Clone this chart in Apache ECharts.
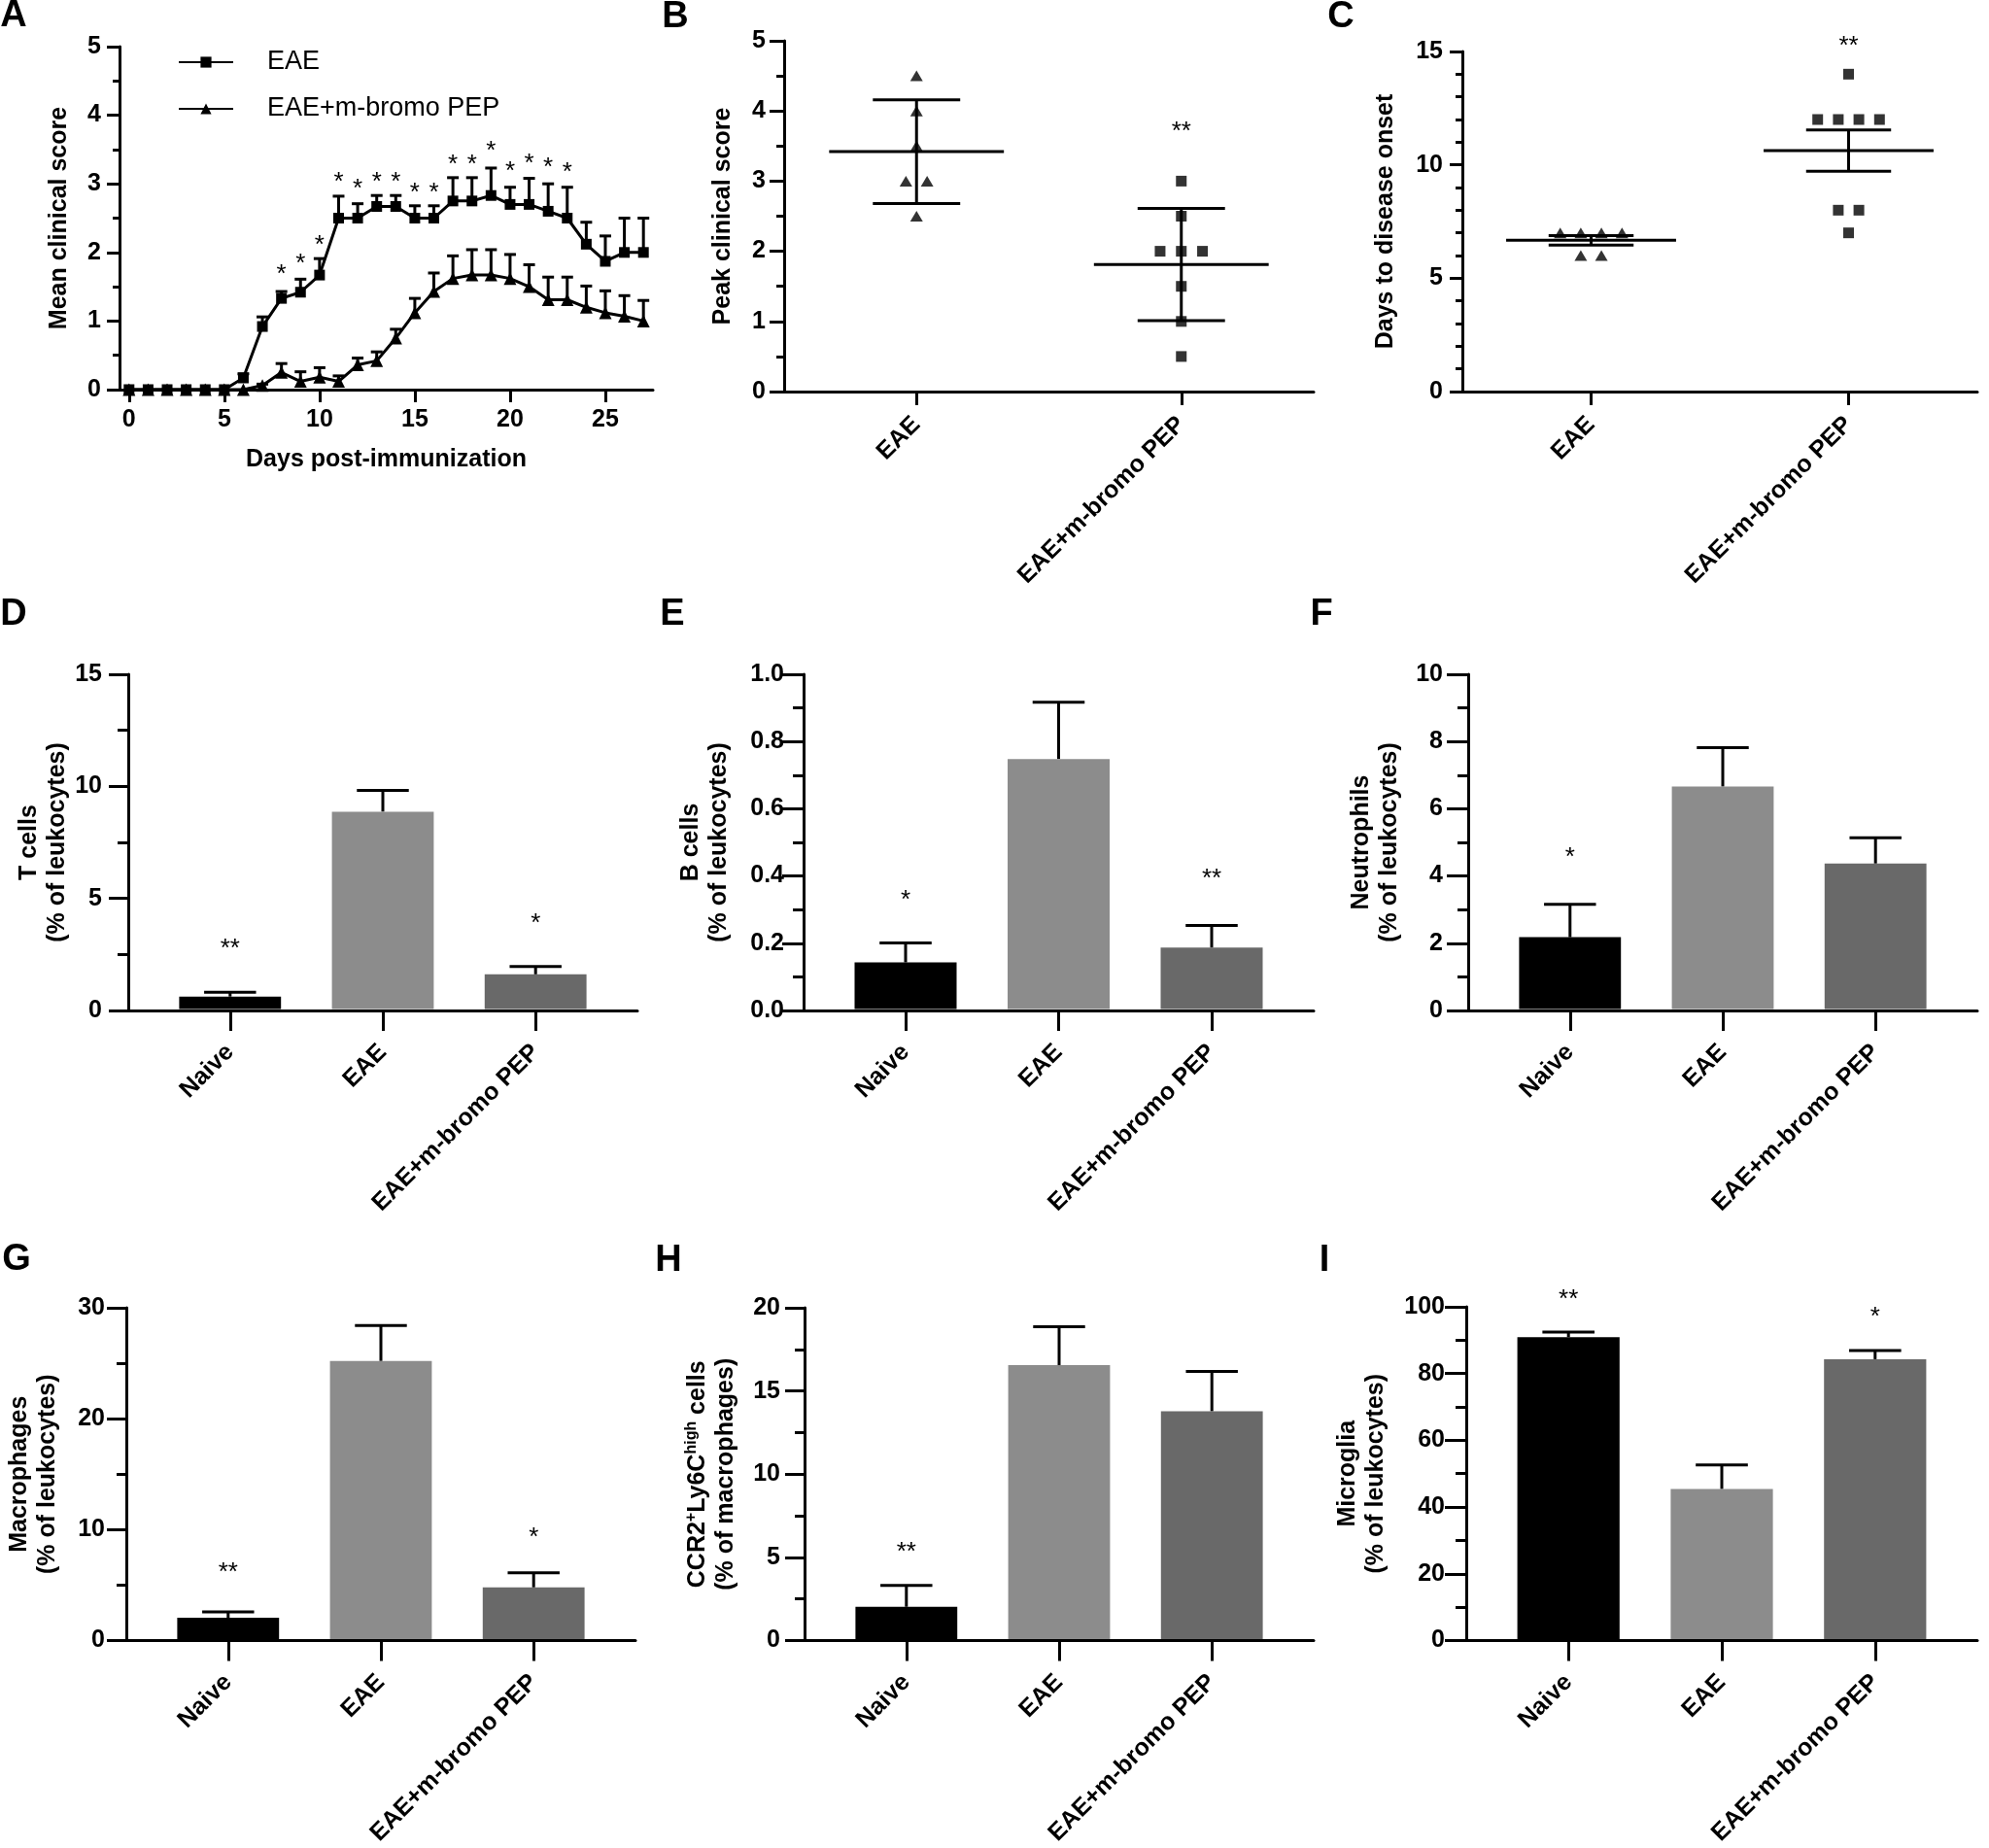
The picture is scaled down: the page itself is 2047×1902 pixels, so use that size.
<!DOCTYPE html>
<html><head><meta charset="utf-8">
<script src="https://cdn.jsdelivr.net/npm/echarts@6/dist/echarts.min.js"></script>
<style>html,body{margin:0;padding:0;background:#fff}#c{width:2047px;height:1902px}</style>
</head><body><div id="c"></div>
<script>
// ---------------- DATA ----------------
// Panel A: mean clinical score over time
const daysA = [0,1,2,3,4,5,6,7,8,9,10,11,12,13,14,15,16,17,18,19,20,21,22,23,24,25,26,27];
const eaeMeanA = [0,0,0,0,0,0,0.17,0.92,1.33,1.42,1.67,2.5,2.5,2.67,2.67,2.5,2.5,2.75,2.75,2.83,2.7,2.7,2.6,2.5,2.12,1.87,2.0,2.0];
const eaeErrA  = [0,0,0,0,0,0,0.06,0.14,0.10,0.19,0.24,0.32,0.21,0.16,0.16,0.18,0.18,0.34,0.34,0.40,0.25,0.38,0.40,0.45,0.32,0.37,0.50,0.50];
const pepMeanA = [0,0,0,0,0,0,0,0.06,0.25,0.12,0.18,0.12,0.36,0.42,0.75,1.12,1.43,1.62,1.67,1.67,1.62,1.5,1.31,1.31,1.2,1.12,1.07,1.0];
const pepErrA  = [0,0,0,0,0,0,0,0.02,0.13,0.14,0.14,0.08,0.10,0.13,0.13,0.21,0.27,0.33,0.37,0.37,0.35,0.32,0.33,0.33,0.31,0.32,0.30,0.30];
const starDaysA = [8,9,10,11,12,13,14,15,16,17,18,19,20,21,22,23];
const starValA  = [1.76,1.92,2.18,3.10,3.00,3.11,3.10,2.95,2.95,3.36,3.36,3.56,3.26,3.38,3.31,3.25];
const xTicksA = [0,5,10,15,20,25];
const seriesNamesA = ['EAE','EAE+m-bromo PEP'];

// Panels B, C: individual animals
const groupsBC = ['EAE','EAE+m-bromo PEP'];
const peakEAE = [4.5,4.0,3.5,3.0,3.0,2.5];
const peakPEP = [3.0,2.5,2.0,2.0,2.0,1.5,1.0,0.5];
const peakMean = [3.42,1.81];
const peakSD   = [0.74,0.80];
const peakStars = ['','**'];
const peakStarVal = [null,3.78];

const onsetEAE = [7,7,7,7,6,6];
const onsetPEP = [14,12,12,12,12,8,8,7];
const onsetMean = [6.67,10.63];
const onsetSEM  = [0.21,0.91];
const onsetStars = ['','**'];
const onsetStarVal = [null,15.5];

// Panels D-I: bar charts
const groups3 = ['Naive','EAE','EAE+m-bromo PEP'];
const tMean = [0.62,8.87,1.61],   tErr = [0.19,0.95,0.35],  tStars = ['**','','*'], tStarVal = [3.0,null,4.12];
const bMean = [0.143,0.748,0.187], bErr = [0.058,0.169,0.066], bStars = ['*','','**'], bStarVal = [0.343,null,0.409];
const nMean = [2.18,6.66,4.37],   nErr = [0.98,1.16,0.77],  nStars = ['*','',''], nStarVal = [4.72,null,null];
const mMean = [2.06,25.2,4.79],   mErr = [0.52,3.2,1.32],   mStars = ['**','','*'], mStarVal = [6.6,null,9.8];
const cMean = [2.03,16.55,13.78], cErr = [1.28,2.31,2.40],  cStars = ['**','',''], cStarVal = [5.63,null,null];
const gMean = [90.9,45.4,84.3],   gErr = [1.5,7.2,2.6],     gStars = ['**','','*'], gStarVal = [103.7,null,98.5];

// ---------------- STYLE ----------------
const FONT = 'Liberation Sans, Arial, sans-serif';
const BLACK = '#000';
const BAR_COLORS = ['#000000','#8c8c8c','#696969'];
const LW = 3;

const grids = [
  {left:123, top:48,  width:549, height:353}, // A
  {left:807, top:42,  width:545, height:361}, // B
  {left:1505,top:53,  width:530, height:350}, // C
  {left:132, top:694, width:524, height:346}, // D
  {left:827, top:694, width:525, height:346}, // E
  {left:1511,top:694, width:524, height:346}, // F
  {left:130, top:1346,width:524, height:346}, // G
  {left:828, top:1346,width:524, height:346}, // H
  {left:1509,top:1345,width:526, height:347}  // I
].map(g => Object.assign({containLabel:false}, g));

function yAx(g, max, interval, minorSplit, tl, ml, margin, name, gap, fmt, rich) {
  return {type:'value', gridIndex:g, min:0, max, interval,
    axisLine:{show:true, onZero:false, lineStyle:{color:BLACK,width:LW}},
    axisTick:{show:true, length:tl, lineStyle:{color:BLACK,width:LW}},
    minorTick:{show:true, splitNumber:minorSplit, length:ml, lineStyle:{color:BLACK,width:LW}},
    axisLabel:{margin, fontSize:25, fontWeight:'bold', color:BLACK, fontFamily:FONT, formatter: fmt},
    splitLine:{show:false}, minorSplitLine:{show:false},
    name, nameLocation:'middle', nameRotate:90, nameGap:gap,
    nameTextStyle:{fontSize:25, fontWeight:'bold', color:BLACK, fontFamily:FONT, lineHeight:29, rich}
  };
}
function xCat(g, min, max, vals, names, tl, margin) {
  return {type:'value', gridIndex:g, min, max,
    axisLine:{show:true, onZero:false, lineStyle:{color:BLACK,width:LW}},
    axisTick:{show:true, length:tl, customValues:vals, lineStyle:{color:BLACK,width:LW}},
    axisLabel:{show:true, customValues:vals, rotate:45, margin, fontSize:25, fontWeight:'bold', color:BLACK, fontFamily:FONT,
      formatter: v => { let k = 0, d = 1e9; vals.forEach((c,i)=>{ if (Math.abs(c-v)<d){d=Math.abs(c-v);k=i;} }); return names[k]; }},
    splitLine:{show:false}
  };
}

// error-bar renderer (upward only, with cap) for line panel
function errUp(capPx) {
  return (p, api) => {
    const x = api.value(0), y = api.value(1), e = api.value(2);
    if (!(e > 0)) return null;
    const a = api.coord([x, y]), b = api.coord([x, y + e]);
    return {type:'group', children:[
      {type:'line', shape:{x1:a[0],y1:a[1],x2:b[0],y2:b[1]}, style:{stroke:BLACK,lineWidth:LW}},
      {type:'line', shape:{x1:b[0]-capPx,y1:b[1],x2:b[0]+capPx,y2:b[1]}, style:{stroke:BLACK,lineWidth:LW}}
    ]};
  };
}
// bars with upper error bar
const BAR_HALF = 1/3, CAP_HALF = 0.17;
function barSeries(g, mean, err) {
  return {type:'custom', xAxisIndex:g, yAxisIndex:g, clip:false, z:3,
    data: mean.map((m,i)=>[i, m, err[i]]),
    renderItem:(p, api) => {
      const x = api.value(0), y = api.value(1), e = api.value(2);
      const tl = api.coord([x-BAR_HALF, y]), br = api.coord([x+BAR_HALF, 0]);
      const t = api.coord([x, y+e]), cl = api.coord([x-CAP_HALF, y+e]), cr = api.coord([x+CAP_HALF, y+e]);
      return {type:'group', children:[
        {type:'line', shape:{x1:t[0],y1:tl[1],x2:t[0],y2:t[1]}, style:{stroke:BLACK,lineWidth:LW}},
        {type:'line', shape:{x1:cl[0],y1:cl[1],x2:cr[0],y2:cr[1]}, style:{stroke:BLACK,lineWidth:LW}},
        {type:'rect', shape:{x:tl[0], y:tl[1], width:br[0]-tl[0], height:br[1]-tl[1]-1.5}, style:{fill:BAR_COLORS[p.dataIndex]}}
      ]};
    }};
}
// significance stars
function starSeries(g, xs, vals, texts) {
  const items = [], labels = [];
  xs.forEach((x,i)=>{ if (texts[i] && vals[i] != null) { items.push([x, vals[i]]); labels.push(texts[i]); } });
  return {type:'custom', xAxisIndex:g, yAxisIndex:g, clip:false, z:4, data:items,
    renderItem:(p, api) => {
      const c = api.coord([api.value(0), api.value(1)]);
      return {type:'text', x:c[0], y:c[1]+6, style:{text:labels[p.dataIndex], fill:BLACK, fontSize:26, fontFamily:FONT, align:'center', verticalAlign:'middle'}};
    }};
}
// mean +/- error lines for dot plots
function meanSeries(g, mean, err) {
  return {type:'custom', xAxisIndex:g, yAxisIndex:g, clip:false, z:3,
    data: mean.map((m,i)=>[i+0.5, m, err[i]]),
    renderItem:(p, api) => {
      const x = api.value(0), m = api.value(1), e = api.value(2);
      const L = (x1,y1,x2,y2) => { const a = api.coord([x1,y1]), b = api.coord([x2,y2]);
        return {type:'line', shape:{x1:a[0],y1:a[1],x2:b[0],y2:b[1]}, style:{stroke:BLACK,lineWidth:LW}}; };
      return {type:'group', children:[
        L(x-0.33,m,x+0.33,m), L(x,m-e,x,m+e), L(x-0.165,m+e,x+0.165,m+e), L(x-0.165,m-e,x+0.165,m-e)
      ]};
    }};
}
function jitter(vals, center, step) {
  const counts = {}, seen = {};
  vals.forEach(v => { counts[v] = (counts[v]||0) + 1; });
  return vals.map(v => { const k = seen[v] || 0; seen[v] = k + 1; return [center + (k - (counts[v]-1)/2)*step, v]; });
}

const fmt1 = v => v.toFixed(1);
const fmt0 = v => String(Math.round(v));
const xBar = g => xCat(g, -2/3, 8/3, [0,1,2], groups3, 21, 39);

const option = {
  animation:false,
  backgroundColor:'#fff',
  grid: grids,
  legend: {show:true, orient:'vertical', left:178, top:44, itemWidth:56, itemHeight:14, itemGap:18,
    selectedMode:false, data: seriesNamesA,
    textStyle:{fontSize:27, color:BLACK, fontFamily:FONT, lineHeight:30, padding:[0,0,0,30]}},
  xAxis: [
    {type:'value', gridIndex:0, min:-0.5, max:27.5,
      axisLine:{show:true, onZero:false, lineStyle:{color:BLACK,width:LW}},
      axisTick:{show:true, length:13, customValues:xTicksA, lineStyle:{color:BLACK,width:LW}},
      axisLabel:{customValues:xTicksA, margin:19, fontSize:25, fontWeight:'bold', color:BLACK, fontFamily:FONT},
      splitLine:{show:false},
      name:'Days post-immunization', nameLocation:'middle', nameGap:60,
      nameTextStyle:{fontSize:25, fontWeight:'bold', color:BLACK, fontFamily:FONT}},
    xCat(1, 0, 2, [0.5,1.5], groupsBC, 14, 30),
    xCat(2, 0, 2, [0.5,1.5], groupsBC, 14, 30),
    xBar(3), xBar(4), xBar(5), xBar(6), xBar(7), xBar(8)
  ],
  yAxis: [
    yAx(0, 5, 1, 2, 13, 7, 19, 'Mean clinical score', 47, fmt0),
    yAx(1, 5, 1, 2, 15, 8, 19, 'Peak clinical score', 48, fmt0),
    yAx(2, 15, 5, 5, 13, 7, 20, 'Days to disease onset', 64, fmt0),
    yAx(3, 15, 5, 2, 20, 11, 27, 'T cells\n(% of leukocytes)', 50, fmt0),
    yAx(4, 1, 0.2, 2, 22, 11, 20, 'B cells\n(% of leukocytes)', 72, fmt1),
    yAx(5, 10, 2, 2, 22, 11, 26, 'Neutrophils\n(% of leukocytes)', 66, fmt0),
    yAx(6, 30, 10, 2, 20, 10, 22, 'Macrophages\n(% of leukocytes)', 66, fmt0),
    yAx(7, 20, 5, 2, 20, 10, 25, '{a|CCR2}{s|+}{a|Ly6C}{s|high}{a| cells}\n{a|(% of macrophages)}', 66, fmt0,
      {a:{fontSize:25, fontWeight:'bold', color:BLACK, fontFamily:FONT, lineHeight:29},
       s:{fontSize:16, fontWeight:'bold', color:BLACK, fontFamily:FONT, verticalAlign:'top', lineHeight:16, padding:[0,0,10,0]}}),
    yAx(8, 100, 20, 2, 22, 11, 22, 'Microglia\n(% of leukocytes)', 78, fmt0)
  ],
  graphic: [
    ['A',14,17],['B',695,18],['C',1380,18],['D',14,633],['E',692,633],['F',1360,633],['G',17,1297],['H',688,1298],['I',1363,1298]
  ].map(([t,x,y]) => ({type:'text', x, y, style:{text:t, fill:BLACK, fontSize:38, fontWeight:'bold', fontFamily:FONT, align:'center', verticalAlign:'middle'}})),
  series: [
    // Panel A
    {type:'custom', xAxisIndex:0, yAxisIndex:0, clip:false, data: daysA.map((d,i)=>[d, pepMeanA[i], pepErrA[i]]), renderItem: errUp(6)},
    {type:'custom', xAxisIndex:0, yAxisIndex:0, clip:false, data: daysA.map((d,i)=>[d, eaeMeanA[i], eaeErrA[i]]), renderItem: errUp(6)},
    {type:'line', name:seriesNamesA[1], xAxisIndex:0, yAxisIndex:0, clip:false, data: daysA.map((d,i)=>[d, pepMeanA[i]]),
      symbol:'triangle', symbolSize:13, showAllSymbol:true, lineStyle:{color:BLACK,width:LW}, itemStyle:{color:BLACK}, z:3},
    {type:'line', name:seriesNamesA[0], xAxisIndex:0, yAxisIndex:0, clip:false, data: daysA.map((d,i)=>[d, eaeMeanA[i]]),
      symbol:'rect', symbolSize:11, showAllSymbol:true, lineStyle:{color:BLACK,width:LW}, itemStyle:{color:BLACK}, z:4},
    starSeries(0, starDaysA, starValA, starDaysA.map(()=>'*')),
    // Panel B
    meanSeries(1, peakMean, peakSD),
    {type:'scatter', xAxisIndex:1, yAxisIndex:1, symbol:'triangle', symbolSize:[13,11], itemStyle:{color:BLACK}, data: jitter(peakEAE, 0.5, 0.08), z:4},
    {type:'scatter', xAxisIndex:1, yAxisIndex:1, symbol:'rect', symbolSize:11, itemStyle:{color:BLACK}, data: jitter(peakPEP, 1.5, 0.08), z:4},
    starSeries(1, [0.5,1.5], peakStarVal, peakStars),
    // Panel C
    meanSeries(2, onsetMean, onsetSEM),
    {type:'scatter', xAxisIndex:2, yAxisIndex:2, symbol:'triangle', symbolSize:[13,11], itemStyle:{color:BLACK}, data: jitter(onsetEAE, 0.5, 0.08), z:4},
    {type:'scatter', xAxisIndex:2, yAxisIndex:2, symbol:'rect', symbolSize:11, itemStyle:{color:BLACK}, data: jitter(onsetPEP, 1.5, 0.08), z:4},
    starSeries(2, [0.5,1.5], onsetStarVal, onsetStars),
    // Panels D-I
    barSeries(3, tMean, tErr), starSeries(3, [0,1,2], tStarVal, tStars),
    barSeries(4, bMean, bErr), starSeries(4, [0,1,2], bStarVal, bStars),
    barSeries(5, nMean, nErr), starSeries(5, [0,1,2], nStarVal, nStars),
    barSeries(6, mMean, mErr), starSeries(6, [0,1,2], mStarVal, mStars),
    barSeries(7, cMean, cErr), starSeries(7, [0,1,2], cStarVal, cStars),
    barSeries(8, gMean, gErr), starSeries(8, [0,1,2], gStarVal, gStars)
  ]
};
const chart = echarts.init(document.getElementById('c'), null, {renderer:'canvas'});
chart.setOption(option);
</script>
</body></html>
